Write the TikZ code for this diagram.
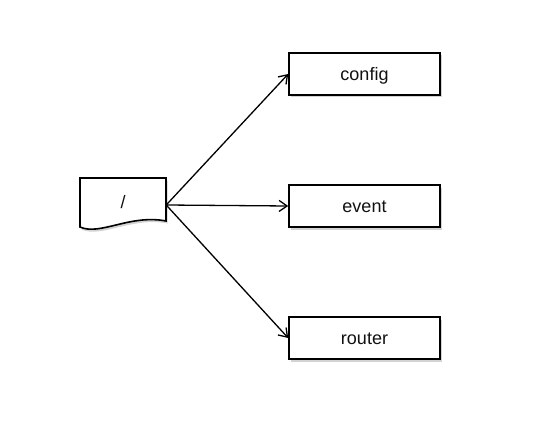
\documentclass[tikz,border=0pt]{standalone}
\usepackage{fontspec}
\setmainfont{Liberation Sans}
\usetikzlibrary{positioning, arrows.meta, shadows}
\definecolor{clrborder}{HTML}{000000}
\definecolor{clrtext}{HTML}{111111}
\definecolor{clrshadow}{HTML}{808080}

\begin{document}
\begin{tikzpicture}[
    x=1pt, y=-1pt,
    every node/.style={font=\fontsize{18}{21}\selectfont, text=clrtext},
    boxshadow/.style={drop shadow={shadow xshift=1.5pt, shadow yshift=-2.5pt, fill=clrshadow, opacity=0.35}},
    modbox/.style={draw=clrborder, fill=white, line width=1.6pt, minimum width=151pt,
                   minimum height=42pt, text height=13pt, text depth=0pt, boxshadow},
    docbox/.style={minimum width=86pt, minimum height=43pt, inner sep=0pt},
    docline/.style={draw=clrborder, fill=white, line width=1.6pt, boxshadow},
    arrow/.style={-{Straight Barb[length=8pt, width=11pt]}, line width=1.3pt, color=clrborder},
]
\useasboundingbox (0,0) rectangle (557,425);
% document shape with wavy bottom
\path[docline] (80,178) -- (166,178) -- (166,221)
    .. controls (130,214) and (100,236) .. (80,227) -- cycle;
\node[docbox] (n_root) at (123,202) {/};
\node[modbox] (n_config) at (364.5,74) {config};
\node[modbox] (n_event) at (364.5,206) {event};
\node[modbox] (n_router) at (364.5,338) {router};
\coordinate (c_root) at ([yshift=-3pt]n_root.east);
\draw[arrow] (c_root) -- (n_config.west);
\draw[arrow] (c_root) -- (n_event.west);
\draw[arrow] (c_root) -- (n_router.west);
\end{tikzpicture}
\end{document}
